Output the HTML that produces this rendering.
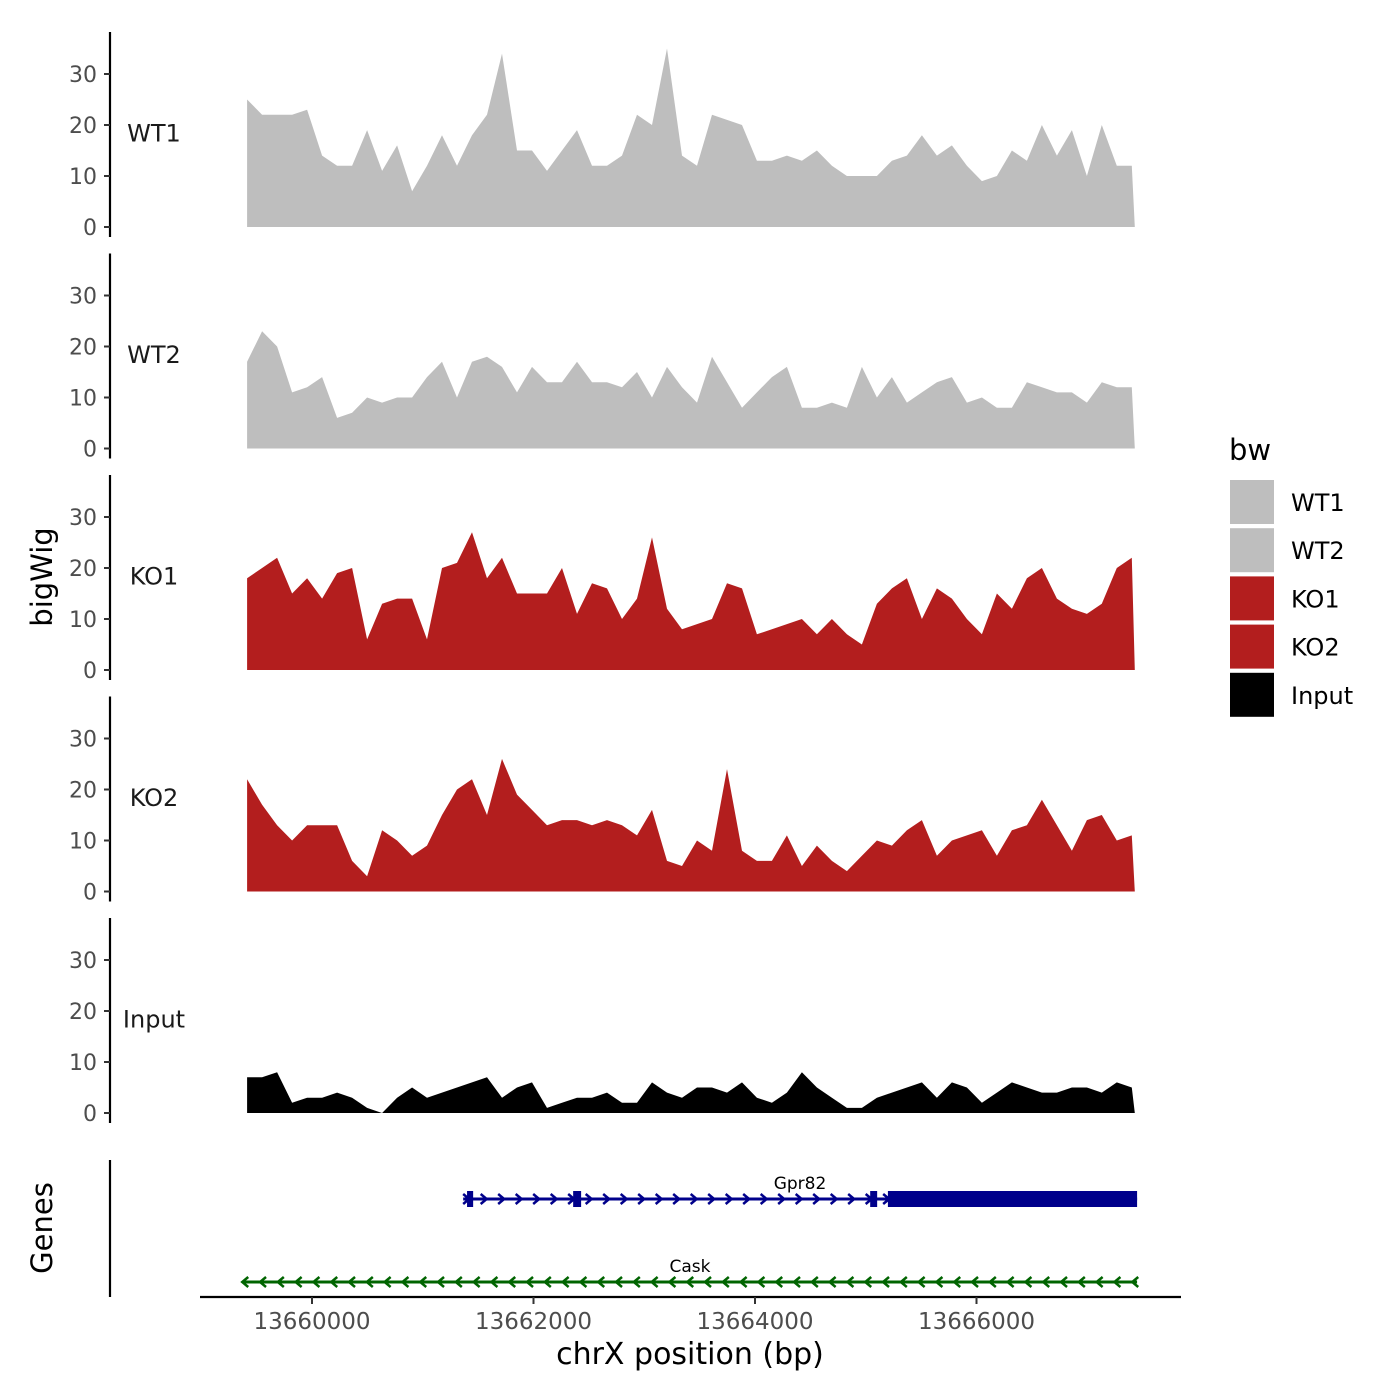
<!DOCTYPE html>
<html><head><meta charset="utf-8"><style>
body{margin:0;background:#fff}
svg{display:block;font-family:"DejaVu Sans","Liberation Sans",sans-serif}
</style></head><body>
<svg id="chart" width="1400" height="1400" viewBox="0 0 1400 1400" xmlns="http://www.w3.org/2000/svg">
<g id="tracks"></g>
<g id="genes"></g>
<g id="xaxis"></g>
<text x="52" y="577" font-size="29" fill="#000" text-anchor="middle" transform="rotate(-90 52 577)">bigWig</text>
<text x="52" y="1228" font-size="29" fill="#000" text-anchor="middle" transform="rotate(-90 52 1228)">Genes</text>
<text x="690" y="1364" font-size="30" fill="#000" text-anchor="middle">chrX position (bp)</text>
<g id="legend">
<text x="1229" y="460" font-size="29" fill="#000">bw</text>
</g>
</svg>
<script>
const trackNames = ["WT1","WT2","KO1","KO2","Input"];
const trackColors = ["#bebebe","#bebebe","#b31e1e","#b31e1e","#000000"];
const startBp = 13659414;
const stepBp = 135.4;
const wt1 = [25,22,22,22,23,14,12,12,19,11,16,7,12,18,12,18,22,34,15,15,11,15,19,12,12,14,22,20,35,14,12,22,21,20,13,13,14,13,15,12,10,10,10,13,14,18,14,16,12,9,10,15,13,20,14,19,10,20,12,12];
const wt2 = [17,23,20,11,12,14,6,7,10,9,10,10,14,17,10,17,18,16,11,16,13,13,17,13,13,12,15,10,16,12,9,18,13,8,11,14,16,8,8,9,8,16,10,14,9,11,13,14,9,10,8,8,13,12,11,11,9,13,12,12];
const ko1 = [18,20,22,15,18,14,19,20,6,13,14,14,6,20,21,27,18,22,15,15,15,20,11,17,16,10,14,26,12,8,9,10,17,16,7,8,9,10,7,10,7,5,13,16,18,10,16,14,10,7,15,12,18,20,14,12,11,13,20,22];
const ko2 = [22,17,13,10,13,13,13,6,3,12,10,7,9,15,20,22,15,26,19,16,13,14,14,13,14,13,11,16,6,5,10,8,24,8,6,6,11,5,9,6,4,7,10,9,12,14,7,10,11,12,7,12,13,18,13,8,14,15,10,11];
const inputVals = [7,7,8,2,3,3,4,3,1,0,3,5,3,4,5,6,7,3,5,6,1,2,3,3,4,2,2,6,4,3,5,5,4,6,3,2,4,8,5,3,1,1,3,4,5,6,3,6,5,2,4,6,5,4,4,5,5,4,6,5];
const series = [wt1,wt2,ko1,ko2,inputVals];
const yTicks = [0,10,20,30];
const xTicks = [13660000,13662000,13664000,13666000];
const gprExons = [[13661400,13661455],[13662358,13662430],[13665040,13665103]];
const gprUtr = [13665200,13667450];
const gprSpan = [13661365,13667450];
const caskSpan = [13659370,13667450];

const NS="http://www.w3.org/2000/svg";
function mk(tag,attrs,parent){const e=document.createElementNS(NS,tag);for(const k in attrs)e.setAttribute(k,attrs[k]);parent.appendChild(e);return e;}
const xs = bp => 312 + (bp-13660000)*221.5/2000;
const panelH = 221.5;
const ys = (i,v) => 227 + i*panelH - v*5.1;

const tracks=document.getElementById('tracks');
series.forEach((vals,i)=>{
  const g=mk('g',{},tracks);
  
  
  const top=32+i*panelH, bot=237+i*panelH;
  const ax=mk('line',{x1:110,x2:110,y1:top,y2:bot,stroke:'#000','stroke-width':2.2},g);
  
  
  yTicks.forEach(t=>{
    const y=ys(i,t);
    const tk=mk('line',{x1:104,x2:110,y1:y,y2:y,stroke:'#333','stroke-width':2},g);
    
    
    const tl=mk('text',{x:97,y:y+8,'font-size':22,fill:'#4d4d4d','text-anchor':'end'},g);
    
    
    tl.textContent=t;
  });
  let d='M'+xs(startBp)+','+ys(i,0);
  vals.forEach((v,j)=>{d+=' L'+xs(startBp+j*stepBp).toFixed(1)+','+ys(i,v).toFixed(1);});
  d+=' L'+(xs(startBp+(vals.length-1)*stepBp)+3).toFixed(1)+','+ys(i,0)+' Z';
  const p=mk('path',{d:d,fill:trackColors[i]},g);
  
  
  const lb=mk('text',{x:154,y:ys(i,18.3)+8,'font-size':24,fill:'#1a1a1a','text-anchor':'middle'},g);
  
  
  lb.textContent=trackNames[i];
});

// legend
const lg=document.getElementById('legend');
trackNames.forEach((n,i)=>{
  const r=mk('rect',{x:1230,y:480+i*48.2,width:44,height:44,fill:trackColors[i]},lg);
  
  
  const t=mk('text',{x:1291,y:511+i*48.2,'font-size':24,fill:'#000'},lg);
  
  
  t.textContent=n;
});

// genes
const gg=document.getElementById('genes');
const gax=mk('line',{x1:110,x2:110,y1:1160,y2:1297,stroke:'#000','stroke-width':2.2},gg);


const blue='#00008b', green='#006400';
const gy=1199;
const gl=mk('line',{x1:xs(gprSpan[0]),x2:xs(gprSpan[1]),y1:gy,y2:gy,stroke:blue,'stroke-width':3},gg);


for(let x=xs(gprSpan[0])+3;x<xs(gprSpan[1])-10;x+=17.5){
  const a=mk('polyline',{points:`${x-3},${gy-5} ${x+3},${gy} ${x-3},${gy+5}`,fill:'none',stroke:blue,'stroke-width':2.5},gg);
  
  
}
gprExons.forEach(e=>{
  const r=mk('rect',{x:xs(e[0]),y:gy-8,width:Math.max(6,xs(e[1])-xs(e[0])),height:16,fill:blue},gg);
  
  
});
const ur=mk('rect',{x:xs(gprUtr[0]),y:gy-8,width:xs(gprUtr[1])-xs(gprUtr[0]),height:16,fill:blue},gg);


const gt=mk('text',{x:800,y:1189,'font-size':17,fill:'#000','text-anchor':'middle'},gg);


gt.textContent='Gpr82';
const cy=1282;
const cl=mk('line',{x1:xs(caskSpan[0]),x2:xs(caskSpan[1]),y1:cy,y2:cy,stroke:green,'stroke-width':3},gg);


for(let x=xs(caskSpan[0])+3;x<xs(caskSpan[1]);x+=17.8){
  const a=mk('polyline',{points:`${x+3},${cy-5} ${x-3},${cy} ${x+3},${cy+5}`,fill:'none',stroke:green,'stroke-width':2.5},gg);
  
  
}
const ct=mk('text',{x:690,y:1272,'font-size':17,fill:'#000','text-anchor':'middle'},gg);


ct.textContent='Cask';

// x axis
const xa=document.getElementById('xaxis');
const xl=mk('line',{x1:200,x2:1181,y1:1297,y2:1297,stroke:'#000','stroke-width':2.2},xa);


xTicks.forEach(t=>{
  const x=xs(t);
  const tk=mk('line',{x1:x,x2:x,y1:1297,y2:1304,stroke:'#333','stroke-width':2},xa);
  
  
  const tl=mk('text',{x:x,y:1329,'font-size':23,fill:'#4d4d4d','text-anchor':'middle'},xa);
  
  
  tl.textContent=t;
});
</script>
</body></html>
